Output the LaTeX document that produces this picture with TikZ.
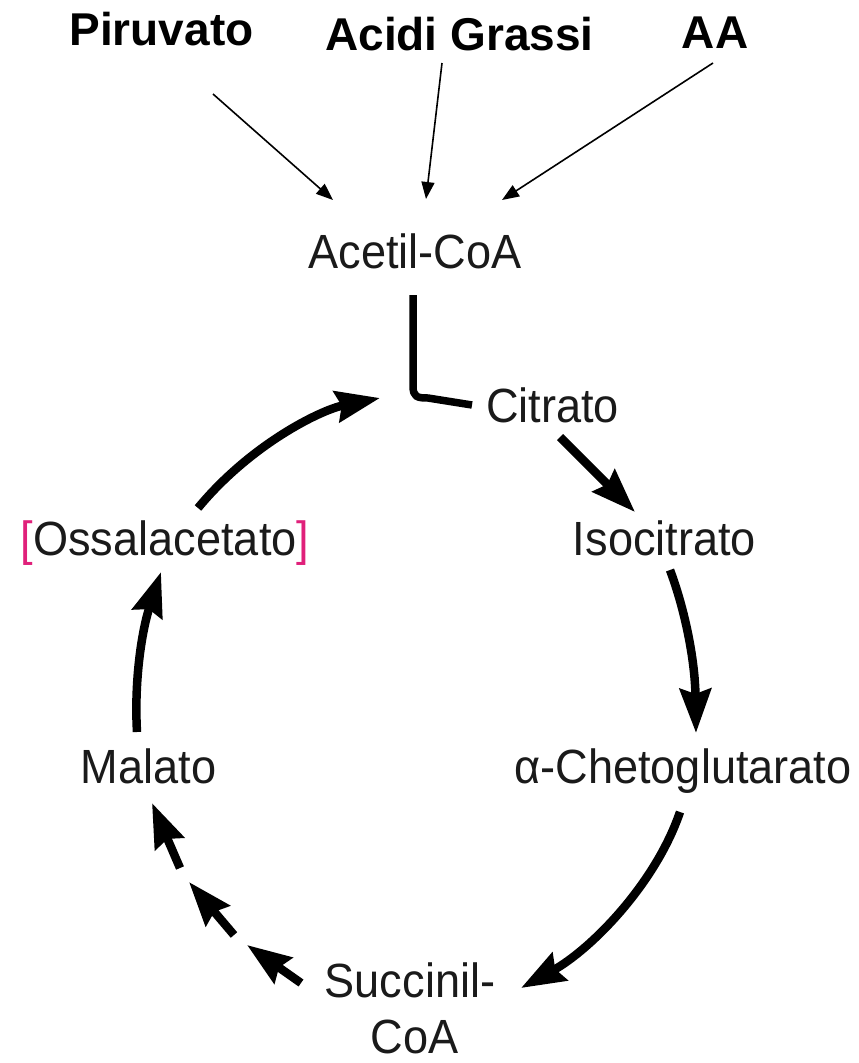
\documentclass[tikz,border=0pt]{standalone}
\usepackage{fontspec}
\usepackage{graphicx}
\setmainfont{Liberation Sans}
\usetikzlibrary{arrows.meta}
\definecolor{brpink}{HTML}{E0207A}
\definecolor{txt}{HTML}{1A1A1A}
\newcommand{\lbl}[1]{\scalebox{0.94}[1]{#1}}
\begin{document}
\begin{tikzpicture}[x=1pt,y=-1pt,
  toplabel/.style={font=\fontsize{46}{52}\selectfont\bfseries, anchor=base, inner sep=0pt, text=black},
  metab/.style={font=\fontsize{48}{56}\selectfont, anchor=base, inner sep=0pt, text=txt},
  feed/.style={line width=1.6pt, -{Triangle[length=17pt,width=13pt]}},
  cyc/.style={line width=8.5pt, -{Stealth[length=44pt,width=31pt,inset=5pt]}}]
\fill[white] (0,0) rectangle (859,1063);
\useasboundingbox (0,0) rectangle (859,1063);

% top labels
\node[toplabel] (pir) at (161.5,45) {Piruvato};
\node[toplabel] (acg) at (459.5,50) {Acidi Grassi};
\node[toplabel] (aa)  at (715,48) {AA};

% metabolites
\node[metab] (acetil) at (415,268) {\lbl{Acetil-CoA}};
\node[metab] (cit) at (552.5,422) {\lbl{Citrato}};
\node[metab] (iso) at (664.5,555) {\lbl{Isocitrato}};
\node[metab] (oss) at (165,555) {\lbl{\textcolor{brpink}{[}Ossalacetato\textcolor{brpink}{]}}};
\node[metab] (mal) at (148.5,783) {\lbl{Malato}};
\node[metab] (akg) at (683,783) {\lbl{α-Chetoglutarato}};
\node[metab] (suc) at (410,997) {\lbl{Succinil-}};
\node[metab] (coa) at (414.5,1053) {\lbl{CoA}};

% connector end points
\coordinate (pirS) at (213,94);   \coordinate (pirE) at (333,200);
\coordinate (acgS) at (442,63);   \coordinate (acgE) at (426,199);
\coordinate (aaS)  at (713,63);   \coordinate (aaE)  at (502,200);
\coordinate (acB)  at (413,295);  \coordinate (citL) at (472,405);
\coordinate (ossO) at (198,508);  \coordinate (ossT) at (380,398);
\coordinate (citO) at (560,437);  \coordinate (isoI) at (635,512);
\coordinate (isoO) at (670,570);  \coordinate (akgI) at (696,733);
\coordinate (akgO) at (680,812);  \coordinate (sucI) at (521,988);
\coordinate (malO) at (137,732);  \coordinate (ossI) at (161,572);
\coordinate (sucO) at (301,983);  \coordinate (d1) at (247,945);
\coordinate (d2) at (234,935);    \coordinate (d3) at (189,882);
\coordinate (d4) at (180,868);    \coordinate (malI) at (152,803);

% feeding arrows
\draw[feed] (pirS) -- (pirE);
\draw[feed] (acgS) -- (acgE);
\draw[feed] (aaS) -- (aaE);

% acetyl-CoA joining line
\draw[line width=7.5pt, line cap=butt, line join=round]
  (acB) -- (413,386) .. controls (413,397) and (417,398) .. (428,398) -- (citL);

% cycle arrows
\draw[cyc] (ossO) .. controls (250,445) and (320,410) .. (ossT);
\draw[cyc] (citO) -- (isoI);
\draw[cyc] (isoO) .. controls (685,610) and (695,660) .. (akgI);
\draw[cyc] (akgO) .. controls (655,885) and (590,950) .. (sucI);
\draw[cyc] (malO) .. controls (134,680) and (142,630) .. (ossI);

% multi-step arrow (three short arrows)
\draw[cyc] (sucO) -- (d1);
\draw[cyc] (d2) -- (d3);
\draw[cyc] (d4) -- (malI);
\end{tikzpicture}
\end{document}
